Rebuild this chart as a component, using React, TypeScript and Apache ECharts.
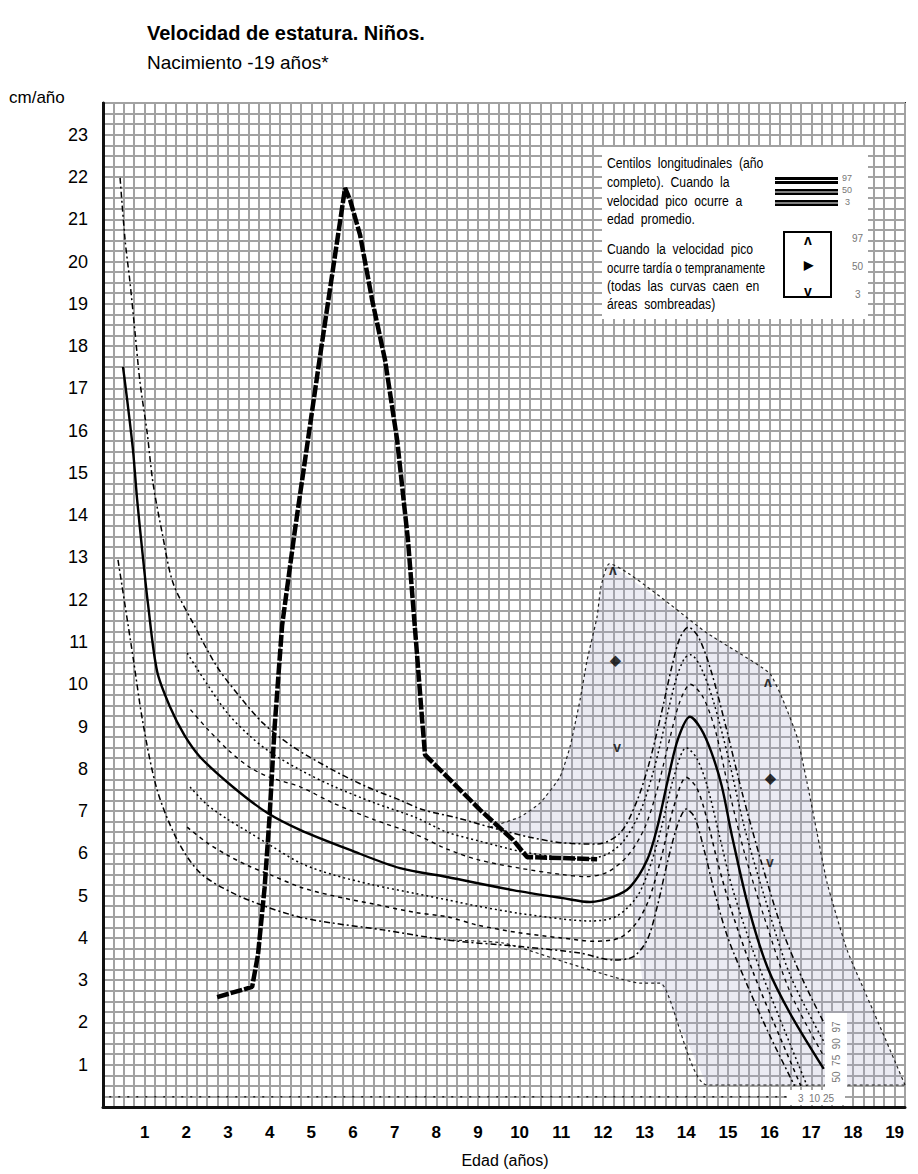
import { useEffect, useRef } from 'react';
import * as echarts from 'echarts';

// ---- data (age in years, velocity in cm/year) ----
const xTickLabels = [1, 2, 3, 4, 5, 6, 7, 8, 9, 10, 11, 12, 13, 14, 15, 16, 17, 18, 19];
const yTickLabels = [1, 2, 3, 4, 5, 6, 7, 8, 9, 10, 11, 12, 13, 14, 15, 16, 17, 18, 19, 20, 21, 22, 23];

const c97 = [[0.41, 21.98], [0.53, 20.51], [0.65, 19.49], [0.77, 18.31], [0.89, 17.13], [1.06, 15.95], [1.2, 14.76], [1.42, 13.58], [1.68, 12.4], [2.16, 11.45], [2.74, 10.41], [3.29, 9.7], [3.84, 9.08], [4.56, 8.52], [5.52, 7.97], [6.34, 7.57], [7.13, 7.26], [7.68, 7.03], [8.5, 6.84], [9.29, 6.62], [10.25, 6.38], [11.04, 6.25], [11.86, 6.22], [12.41, 6.48], [12.8, 7.2], [13.1, 8.1], [13.4, 9.3], [13.65, 10.4], [13.85, 11.1], [14.05, 11.35], [14.3, 11.1], [14.6, 10.3], [14.95, 9.0], [15.35, 7.4], [15.8, 5.8], [16.3, 4.2], [16.8, 3.0], [17.3, 2.0]];
const c90 = [[2.02, 10.74], [2.5, 10.0], [3.0, 9.3], [3.5, 8.8], [4.0, 8.4], [4.74, 7.97], [5.5, 7.6], [6.5, 7.2], [7.5, 6.85], [8.26, 6.5], [9.0, 6.3], [10.0, 6.05], [11.0, 5.9], [11.6, 5.87], [12.1, 5.98], [12.5, 6.3], [12.9, 7.0], [13.2, 7.9], [13.5, 9.1], [13.75, 10.1], [13.95, 10.6], [14.1, 10.7], [14.35, 10.4], [14.65, 9.6], [15.0, 8.3], [15.4, 6.6], [15.9, 4.9], [16.5, 3.1], [17.3, 1.55]];
const c75 = [[2.1, 9.4], [2.5, 8.95], [3.0, 8.45], [3.5, 8.05], [4.0, 7.8], [4.74, 7.57], [5.5, 7.2], [6.5, 6.8], [7.5, 6.45], [8.26, 6.1], [9.0, 5.85], [10.0, 5.65], [11.0, 5.5], [11.6, 5.45], [12.1, 5.55], [12.6, 5.95], [13.0, 6.6], [13.3, 7.5], [13.6, 8.7], [13.85, 9.6], [14.1, 10.0], [14.4, 9.7], [14.7, 8.9], [15.0, 7.6], [15.4, 6.0], [15.9, 4.4], [16.5, 2.7], [17.3, 1.2]];
const c50 = [[0.48, 17.51], [0.58, 16.73], [0.72, 15.54], [0.82, 14.36], [0.94, 13.18], [1.08, 11.9], [1.3, 10.3], [1.61, 9.46], [1.95, 8.8], [2.33, 8.28], [3.12, 7.57], [3.94, 6.96], [4.74, 6.55], [5.93, 6.08], [7.13, 5.65], [8.26, 5.44], [9.84, 5.13], [11.04, 4.94], [11.69, 4.85], [12.24, 4.97], [12.65, 5.2], [13.06, 5.84], [13.3, 6.6], [13.55, 7.7], [13.8, 8.7], [14.09, 9.23], [14.35, 8.95], [14.6, 8.4], [14.85, 7.6], [15.1, 6.4], [15.5, 4.7], [15.95, 3.3], [16.5, 2.2], [17.3, 0.9]];
const c25 = [[2.09, 7.57], [2.5, 7.15], [3.0, 6.8], [3.5, 6.5], [4.0, 6.2], [4.74, 5.77], [5.5, 5.5], [6.5, 5.25], [7.5, 5.05], [8.26, 4.9], [9.0, 4.75], [10.0, 4.58], [11.0, 4.45], [11.7, 4.4], [12.3, 4.5], [12.8, 4.95], [13.1, 5.6], [13.4, 6.6], [13.7, 7.8], [14.0, 8.5], [14.25, 8.25], [14.5, 7.6], [14.8, 6.4], [15.1, 5.2], [15.6, 3.7], [16.2, 2.2], [16.9, 0.5]];
const c10 = [[2.02, 6.62], [2.5, 6.25], [3.0, 5.95], [3.5, 5.7], [4.0, 5.5], [4.74, 5.2], [5.5, 5.0], [6.5, 4.8], [7.5, 4.6], [8.26, 4.5], [9.0, 4.3], [10.0, 4.12], [11.0, 4.0], [11.8, 3.92], [12.4, 4.0], [12.8, 4.35], [13.1, 4.9], [13.4, 5.9], [13.7, 7.1], [14.0, 7.8], [14.25, 7.55], [14.5, 6.8], [14.75, 5.8], [15.1, 4.6], [15.6, 3.2], [16.1, 2.0], [16.75, 0.5]];
const c3 = [[0.36, 12.94], [0.72, 10.65], [0.96, 9.08], [1.3, 7.5], [1.78, 6.32], [2.33, 5.54], [3.12, 5.06], [3.94, 4.73], [4.73, 4.49], [5.52, 4.35], [6.72, 4.19], [8.26, 3.95], [10.08, 3.79], [11.45, 3.64], [12.24, 3.48], [12.72, 3.55], [13.06, 3.95], [13.3, 4.73], [13.55, 5.8], [13.8, 6.7], [14.0, 7.05], [14.2, 6.85], [14.45, 6.0], [14.7, 5.0], [15.0, 4.0], [15.5, 2.8], [16.0, 1.7], [16.6, 0.5]];

const lateLow = [[8.26, 3.95], [9.6, 3.88], [11.14, 3.41], [12.24, 3.08], [12.89, 2.93], [13.37, 2.93], [14.5, 0.52], [19.25, 0.52]];
const shadeTop = [[9.29, 6.62], [10.01, 6.86], [10.49, 7.19], [10.97, 7.81], [11.21, 8.52], [11.45, 9.63], [11.62, 10.57], [11.86, 11.6], [11.95, 12.3], [12.15, 12.85], [14.5, 11.21], [15.99, 10.27], [16.32, 9.63], [16.66, 8.75], [16.9, 7.67], [17.14, 6.48], [17.38, 5.3], [17.86, 3.71], [18.48, 2.29], [19.0, 1.1], [19.25, 0.52]];
const shadeBottom = [[19.25, 0.52], [14.5, 0.52], [13.37, 2.93], [12.95, 2.95], [12.8, 4.2], [12.6, 5.6], [12.35, 6.4], [11.86, 6.22], [11.04, 6.25], [10.25, 6.38], [9.29, 6.62]];
const baseDots = [[0.15, 0.24], [16.4, 0.24]];

const patient = [[2.74, 2.6], [3.58, 2.84], [3.72, 3.6], [3.88, 5.2], [4.0, 6.9], [4.12, 9.0], [4.3, 11.4], [4.6, 13.6], [5.2, 17.7], [5.81, 21.74], [5.93, 21.46], [6.17, 20.63], [6.46, 19.09], [6.77, 17.67], [7.06, 15.78], [7.32, 13.41], [7.51, 11.05], [7.66, 9.16], [7.73, 8.33], [8.26, 7.81], [9.05, 7.03], [9.84, 6.32], [10.18, 5.91], [11.0, 5.89], [11.86, 5.86]];

const markerPoints = [[12.24, 12.7], [12.29, 10.57], [12.34, 8.52], [15.96, 10.05], [16.01, 7.78], [16.01, 5.8]];
const markerGlyphs = ['ʌ', '◆', 'v', 'ʌ', '◆', 'v'];

const legendLines = [
  'Centilos  longitudinales  (año',
  'completo).  Cuando  la',
  'velocidad  pico  ocurre  a',
  'edad  promedio.',
  'Cuando  la  velocidad  pico',
  'ocurre tardía o tempranamente',
  '(todas  las  curvas  caen  en',
  'áreas  sombreadas)',
];
const legendLineY = [163, 182, 201, 219, 249, 268, 286, 304];

const FONT = '"Liberation Sans", Arial, sans-serif';

function centileSeries(name: string, data: number[][], dash: any, width: number) {
  return {
    name,
    type: 'line',
    data,
    showSymbol: false,
    symbol: 'none',
    smooth: 0.3,
    silent: true,
    z: 3,
    lineStyle: { color: '#000', width, type: dash },
  };
}

function txt(x: number, y: number, text: string, font: string, opts: any = {}) {
  return {
    type: 'text',
    x,
    y,
    scaleX: opts.scaleX ?? 1,
    rotation: opts.rotation ?? 0,
    z: 100,
    style: {
      text,
      x: 0,
      y: 0,
      font,
      fill: opts.fill ?? '#000',
      align: opts.align ?? 'left',
      verticalAlign: 'middle',
      textAlign: opts.align ?? 'left',
      textVerticalAlign: 'middle',
    },
  };
}

export default function App() {
  const ref = useRef<HTMLDivElement>(null);
  useEffect(() => {
    document.body.style.margin = '0';
    const chart = echarts.init(ref.current!, null, { renderer: 'svg' });
    const xLabel = (v: number) => (xTickLabels.includes(v) ? String(v) : '');
    const yLabel = (v: number) => (yTickLabels.includes(v) ? String(v) : '');

    const graphic: any[] = [
      txt(147, 33, 'Velocidad de estatura. Niños.', `bold 20px ${FONT}`),
      txt(147, 62, 'Nacimiento -19 años*', `19px ${FONT}`),
      txt(9, 97, 'cm/año', `17px ${FONT}`),
      txt(505, 1160, 'Edad (años)', `16px ${FONT}`, { align: 'center' }),
      // legend box
      { type: 'rect', z: 90, shape: { x: 602, y: 147, width: 266, height: 172 }, style: { fill: '#fff' } },
      ...legendLines.map((l, i) => txt(607, legendLineY[i], l, `14px ${FONT}`, { scaleX: i === 5 ? 0.82 : 0.87 })),
      { type: 'rect', z: 100, shape: { x: 775, y: 177, width: 63, height: 7 }, style: { fill: '#000' } },
      { type: 'rect', z: 100, shape: { x: 775, y: 189, width: 63, height: 6 }, style: { fill: '#000' } },
      { type: 'rect', z: 100, shape: { x: 775, y: 200, width: 63, height: 6 }, style: { fill: '#000' } },
      { type: 'line', z: 101, shape: { x1: 775, y1: 180.5, x2: 838, y2: 180.5 }, style: { stroke: '#fff', lineWidth: 1 } },
      { type: 'line', z: 101, shape: { x1: 775, y1: 192, x2: 838, y2: 192 }, style: { stroke: '#fff', lineWidth: 1 } },
      { type: 'line', z: 101, shape: { x1: 775, y1: 203, x2: 838, y2: 203 }, style: { stroke: '#fff', lineWidth: 1 } },
      txt(842, 178, '97', `9px ${FONT}`, { fill: '#777' }),
      txt(842, 190, '50', `9px ${FONT}`, { fill: '#777' }),
      txt(845, 202, '3', `9px ${FONT}`, { fill: '#777' }),
      { type: 'rect', z: 100, shape: { x: 784, y: 232, width: 47, height: 65 }, style: { fill: 'none', stroke: '#000', lineWidth: 2 } },
      txt(808, 240, 'ʌ', `bold 14px ${FONT}`, { align: 'center' }),
      txt(808, 265, '▶', `bold 12px ${FONT}`, { align: 'center' }),
      txt(808, 291, 'v', `bold 14px ${FONT}`, { align: 'center' }),
      txt(852, 238, '97', `10px ${FONT}`, { fill: '#777' }),
      txt(852, 266, '50', `10px ${FONT}`, { fill: '#777' }),
      txt(855, 294, '3', `10px ${FONT}`, { fill: '#777' }),
      // centile labels at the bottom right
      { type: 'rect', z: 90, shape: { x: 825, y: 1013, width: 22, height: 78 }, style: { fill: '#fff' } },
      txt(836, 1052, '50  75  90  97', `10px ${FONT}`, { align: 'center', rotation: Math.PI / 2, fill: '#777' }),
      { type: 'rect', z: 90, shape: { x: 787, y: 1090, width: 58, height: 15 }, style: { fill: '#fff' } },
      txt(816, 1098, '3  10 25', `10px ${FONT}`, { align: 'center', fill: '#777' }),
    ];

    const option: any = {
      animation: false,
      backgroundColor: '#fff',
      grid: { left: 103, right: 13, top: 103, bottom: 67, show: true, borderColor: '#222', borderWidth: 2, backgroundColor: 'transparent' },
      xAxis: {
        type: 'value', min: 0, max: 19.25, interval: 0.25,
        axisLine: { show: true, onZero: false, lineStyle: { color: '#111', width: 3 } },
        axisTick: { show: false },
        splitLine: { show: true, lineStyle: { color: '#a2a2a2', width: 2 } },
        axisLabel: { formatter: xLabel, margin: 17, fontSize: 17, fontWeight: 'bold', color: '#000', fontFamily: FONT },
      },
      yAxis: {
        type: 'value', min: 0, max: 23.75, interval: 0.25,
        axisLine: { show: true, onZero: false, lineStyle: { color: '#111', width: 3 } },
        axisTick: { show: false },
        splitLine: { show: true, lineStyle: { color: '#a2a2a2', width: 2 } },
        axisLabel: { formatter: yLabel, margin: 15, fontSize: 18, color: '#000', fontFamily: FONT },
      },
      graphic,
      series: [
        {
          type: 'custom', silent: true, z: 1,
          data: [[0, 0]],
          renderItem: (_p: any, api: any) => {
            const pts = [...shadeTop, ...shadeBottom].map((p) => api.coord(p));
            return { type: 'polygon', shape: { points: pts }, style: { fill: 'rgba(170,170,205,0.24)', stroke: 'none' } };
          },
        },
        { type: 'line', data: baseDots, showSymbol: false, symbol: 'none', silent: true, z: 2, lineStyle: { color: '#222', width: 1.5, type: [2, 7] } },
        { type: 'line', data: lateLow, showSymbol: false, symbol: 'none', smooth: 0.2, silent: true, z: 2, lineStyle: { color: '#222', width: 1.2, type: [3, 3] } },
        { type: 'line', data: shadeTop, showSymbol: false, symbol: 'none', smooth: 0.15, silent: true, z: 2, lineStyle: { color: '#222', width: 1.2, type: [3, 3] } },
        centileSeries('97', c97, [6, 3, 2, 3], 1.5),
        centileSeries('90', c90, [2, 3], 1.5),
        centileSeries('75', c75, [4, 4], 1.3),
        centileSeries('50', c50, 'solid', 2.4),
        centileSeries('25', c25, [2, 3], 1.5),
        centileSeries('10', c10, [4, 4], 1.5),
        centileSeries('3', c3, [6, 3, 2, 3], 1.5),
        {
          type: 'line', data: patient, showSymbol: false, symbol: 'none', silent: true, z: 5,
          lineStyle: { color: '#000', width: 4.5, type: [12, 2] },
        },
        {
          type: 'scatter', silent: true, z: 6, symbolSize: 1,
          itemStyle: { color: 'transparent' },
          data: markerPoints,
          label: {
            show: true, position: 'inside', color: '#000', fontWeight: 'bold', fontSize: 14, fontFamily: FONT,
            formatter: (p: any) => markerGlyphs[p.dataIndex],
          },
        },
      ],
    };
    chart.setOption(option);
    return () => chart.dispose();
  }, []);
  return <div ref={ref} style={{ position: 'absolute', left: 0, top: 0, width: 918, height: 1174 }} />;
}
